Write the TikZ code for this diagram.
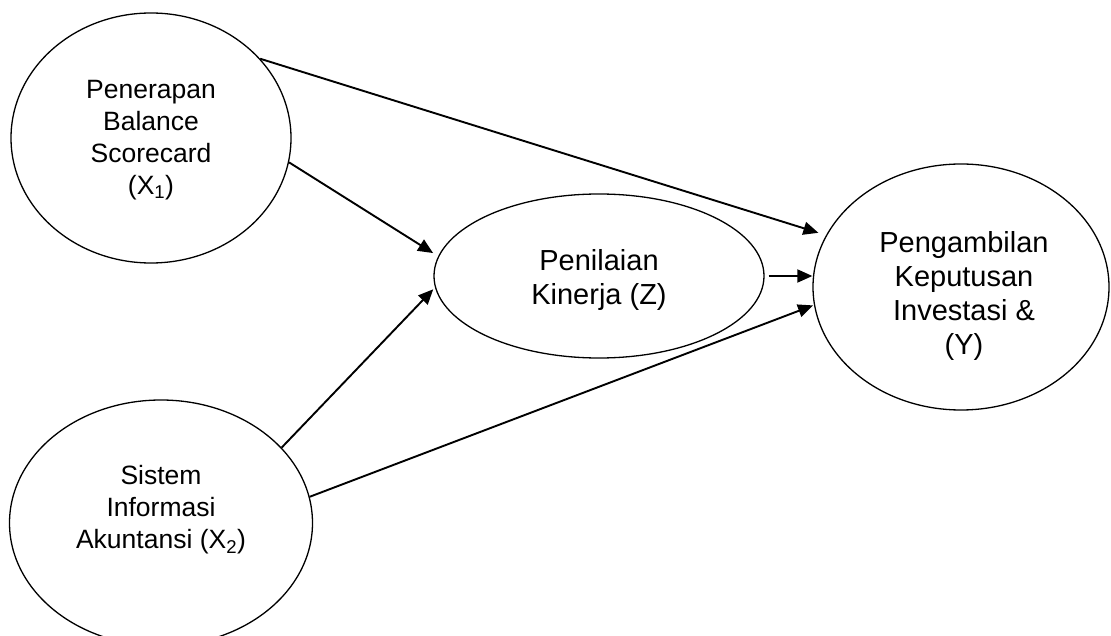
\documentclass[tikz,border=0pt]{standalone}
\usepackage{fontspec}
\setmainfont{Liberation Sans}
\usetikzlibrary{shapes.geometric,arrows.meta}
\begin{document}
\begin{tikzpicture}[x=1pt,y=-1pt,
  construct/.style={draw, ellipse, line width=1.3pt, inner sep=0pt},
  caption/.style={align=center, inner sep=0pt, font=\fontsize{26.5}{32}\selectfont},
  captionbig/.style={align=center, inner sep=0pt, font=\fontsize{29}{34}\selectfont},
  link/.style={line width=1.9pt, -{Triangle[length=15pt,width=13pt]}}]
\useasboundingbox (0,0) rectangle (1111,636);
\clip (0,0) rectangle (1111,636);

% latent constructs
\node[construct, minimum width=280pt, minimum height=250pt] (x1) at (151,138) {};
\node[construct, minimum width=303pt, minimum height=246pt] (x2) at (161,523) {};
\node[construct, minimum width=330pt, minimum height=164pt] (z) at (599,276) {};
\node[construct, minimum width=296pt, minimum height=246pt] (y) at (961,287) {};

% construct names
\node[caption] (x1t) at (151,140) {Penerapan\\Balance\\Scorecard\\(X\textsubscript{1})};
\node[caption] (x2t) at (161,510) {Sistem\\Informasi\\Akuntansi (X\textsubscript{2})};
\node[captionbig] (zt) at (599,280) {Penilaian\\Kinerja (Z)};
\node[captionbig] (yt) at (964,296) {Pengambilan\\Keputusan\\Investasi \&\\(Y)};

% paths
\draw[link, shorten >=8pt] (x1.36) -- (y.159);
\draw[link, shorten >=6pt] (x1.350) -- (z.173);
\draw[link, shorten >=2.5pt] (x2.32) -- (z.184);
\draw[link, shorten >=1pt] (x2.10) -- (y.187);
\draw[link, shorten <=4pt] (z.east) -- (z.east -| y.west);
\end{tikzpicture}
\end{document}
